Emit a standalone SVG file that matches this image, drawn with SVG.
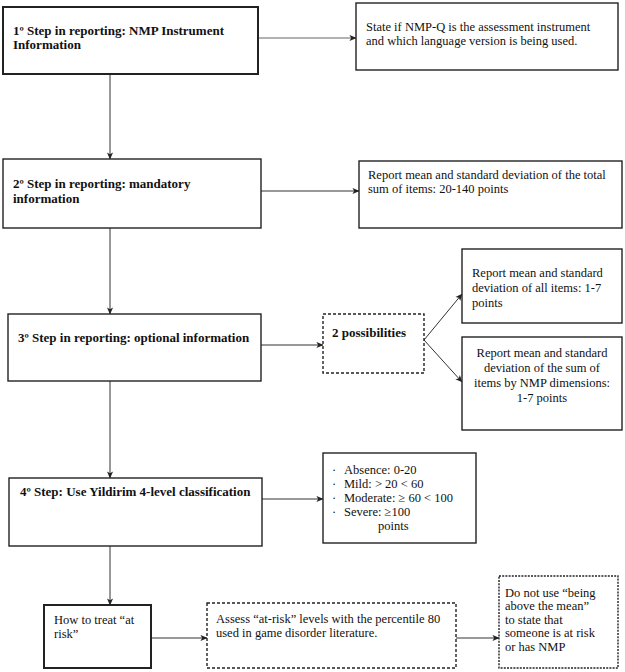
<svg xmlns="http://www.w3.org/2000/svg" width="625" height="672" viewBox="0 0 625 672">
<defs>
<marker id="ah" viewBox="0 0 8 8" refX="7.5" refY="4" markerWidth="7" markerHeight="7" markerUnits="userSpaceOnUse" orient="auto">
<path d="M0,0.5 L8,4 L0,7.5 L2,4 Z" fill="#222"/>
</marker>
</defs>
<style>
.box{fill:#fff;stroke:#222;stroke-width:1.4}
.thick{stroke-width:2}
.dash{stroke-dasharray:3,2}
.dot{stroke-dasharray:2,1.2}
.t{font-family:"Liberation Serif","Times New Roman",serif;font-size:12.5px;fill:#111}
.b{font-family:"Liberation Serif","Times New Roman",serif;font-size:13px;font-weight:bold;fill:#111}
.c{fill:none;stroke:#333;stroke-width:1;marker-end:url(#ah)}
</style>
<rect width="625" height="672" fill="#fff"/>
<g id="connectors">
<line class="c" x1="258" y1="38" x2="356" y2="38" style="stroke:#999;stroke-width:1.5"/>
<line class="c" x1="110" y1="74" x2="110" y2="159"/>
<line class="c" x1="261" y1="191" x2="359" y2="191"/>
<line class="c" x1="110" y1="228" x2="110" y2="314"/>
<line class="c" x1="261" y1="345" x2="323" y2="345"/>
<line class="c" x1="424" y1="340" x2="462" y2="294"/>
<line class="c" x1="424" y1="340" x2="462" y2="382"/>
<line class="c" x1="110" y1="381" x2="110" y2="478"/>
<line class="c" x1="262" y1="499" x2="323" y2="499"/>
<line class="c" x1="110" y1="546" x2="110" y2="605"/>
<line class="c" x1="151" y1="638" x2="207" y2="638"/>
<line class="c" x1="456" y1="638" x2="499" y2="638"/>
</g>
<g id="step1">
<rect class="box thick" x="3" y="7" width="255" height="67"/>
<text class="b" x="13" y="35">1º Step in reporting: NMP Instrument</text>
<text class="b" x="13" y="49">Information</text>
</g>
<g id="step1-detail">
<rect class="box" x="356" y="3" width="262" height="67"/>
<text class="t" x="366" y="31">State if NMP-Q is the assessment instrument</text>
<text class="t" x="366" y="45">and which language  version is being used.</text>
</g>
<g id="step2">
<rect class="box" x="3" y="159" width="258" height="69"/>
<text class="b" x="13" y="188">2º Step in reporting: mandatory</text>
<text class="b" x="13" y="203">information</text>
</g>
<g id="step2-detail">
<rect class="box" x="359" y="161" width="263" height="67"/>
<text class="t" x="368" y="179">Report mean and standard deviation  of the total</text>
<text class="t" x="368" y="193">sum of items: 20-140 points</text>
</g>
<g id="step3">
<rect class="box" x="8" y="314" width="253" height="67"/>
<text class="b" x="18" y="342">3º Step in reporting: optional information</text>
</g>
<g id="possibilities">
<rect class="box dash" x="323" y="314" width="101" height="59"/>
<text class="b" x="332" y="337">2 possibilities</text>
</g>
<g id="option-a">
<rect class="box" x="462" y="249" width="160" height="74"/>
<text class="t" x="472" y="277">Report mean and standard</text>
<text class="t" x="472" y="292">deviation of all items: 1-7</text>
<text class="t" x="472" y="307">points</text>
</g>
<g id="option-b">
<rect class="box" x="462" y="337" width="160" height="93"/>
<text class="t" text-anchor="middle" x="542" y="357">Report mean and standard</text>
<text class="t" text-anchor="middle" x="542" y="372">deviation of the sum of</text>
<text class="t" text-anchor="middle" x="542" y="387">items by NMP dimensions:</text>
<text class="t" text-anchor="middle" x="542" y="402">1-7 points</text>
</g>
<g id="step4">
<rect class="box" x="9" y="478" width="253" height="68"/>
<text class="b" x="20" y="496">4º Step: Use Yildirim 4-level classification</text>
</g>
<g id="classification">
<rect class="box" x="323" y="453" width="153" height="90"/>
<text class="t" x="332" y="474">·</text>
<text class="t" x="344" y="474">Absence: 0-20</text>
<text class="t" x="332" y="488">·</text>
<text class="t" x="344" y="488">Mild: &gt; 20 &lt; 60</text>
<text class="t" x="332" y="502">·</text>
<text class="t" x="344" y="502">Moderate: ≥ 60 &lt; 100</text>
<text class="t" x="332" y="516">·</text>
<text class="t" x="344" y="516">Severe: ≥100</text>
<text class="t" x="378" y="530">points</text>
</g>
<g id="at-risk">
<rect class="box thick" x="44" y="605" width="107" height="63"/>
<text class="t" x="54" y="624">How to treat “at</text>
<text class="t" x="54" y="638">risk”</text>
</g>
<g id="percentile">
<rect class="box dash" x="207" y="603" width="249" height="65"/>
<text class="t" x="216" y="623">Assess “at-risk” levels with the percentile  80</text>
<text class="t" x="216" y="637">used in game disorder literature.</text>
</g>
<g id="warning">
<rect class="box dot" x="499" y="576" width="119" height="92"/>
<text class="t" x="505" y="597">Do not use “being</text>
<text class="t" x="505" y="610">above the mean”</text>
<text class="t" x="505" y="624">to state that</text>
<text class="t" x="505" y="637">someone is at risk</text>
<text class="t" x="505" y="651">or has NMP</text>
</g>
</svg>
